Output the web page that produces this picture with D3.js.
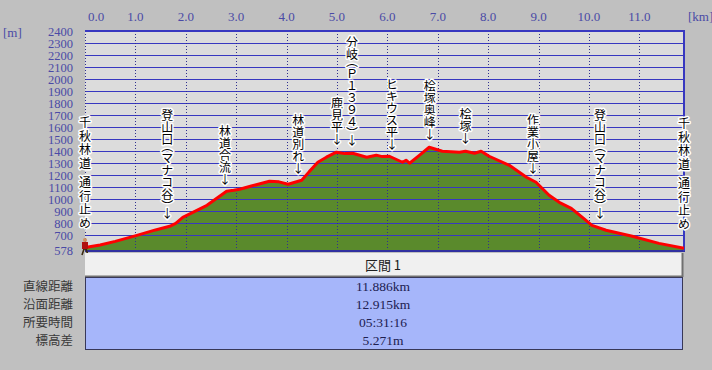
<!DOCTYPE html>
<html><head><meta charset="utf-8">
<script src="https://cdn.jsdelivr.net/npm/d3@7"></script>
<style>
html,body{margin:0;padding:0;background:#c0c0c0;}
svg{display:block;}
</style></head>
<body>
<svg id="chart" width="712" height="370"></svg>
<script>
// ---- data ----
const profileKm = [0.00,0.30,0.60,1.03,1.40,1.68,1.80,1.94,2.42,2.81,2.95,3.07,3.30,3.66,3.85,4.03,4.30,4.45,4.62,4.79,4.99,5.15,5.31,5.59,5.78,5.90,6.04,6.30,6.37,6.44,6.64,6.83,7.09,7.43,7.55,7.73,7.86,8.02,8.42,8.76,8.95,9.21,9.41,9.65,9.87,10.06,10.34,10.86,11.39,11.886];
const profileElev = [598,620,650,700,745,775,800,850,950,1067,1075,1083,1110,1150,1145,1125,1158,1230,1308,1350,1392,1380,1383,1350,1367,1355,1358,1308,1325,1300,1367,1433,1400,1392,1400,1383,1400,1358,1283,1183,1142,1033,975,925,850,783,742,692,633,592];
const wpNames = ["千秋林道 通行止め","登山口（マナコ谷）↓","林道合流↓","林道別れ↓","鹿見平↓","分岐（Ｐ１３９４）↓","ヒキウス平↓","桧塚奥峰↓","桧塚↓","作業小屋↓","登山口（マナコ谷）↓","千秋林道 通行止め"];
const wpKm   = [0.0,1.63,2.78,4.23,5.0,5.3,6.09,6.84,7.55,8.89,10.22,11.886];
const wpElev = [600,770,1060,1150,1392,1383,1350,1433,1400,1150,770,592];
const xTicks = [0,1,2,3,4,5,6,7,8,9,10,11];
const yTicks = [2400,2300,2200,2100,2000,1900,1800,1700,1600,1500,1400,1300,1200,1100,1000,900,800,700,578];
const rowLabels = ["直線距離","沿面距離","所要時間","標高差"];
const rowValues = ["11.886km","12.915km","05:31:16","5.271m"];
const sectionTitle = "区間 1";

// ---- layout ----
const svg = d3.select("#chart");
const L = 85, R = 684, T = 31, B = 250;
const x = d3.scaleLinear().domain([0, 11.886]).range([L, R]);
const y = d3.scaleLinear().domain([578, 2400]).range([B, T]);
const blue = "#3838c0", labBlue = "#4a4aa6";

svg.append("rect").attr("width",712).attr("height",370).attr("fill","#c0c0c0");
svg.append("rect").attr("x",L).attr("y",T).attr("width",R-L).attr("height",B-T).attr("fill","#dcdcdc");

const pts = profileKm.map((k,i)=>[k, profileElev[i]]);
svg.append("path").datum(pts)
  .attr("d", d3.area().x(d=>x(d[0])).y0(y(578)).y1(d=>y(d[1])))
  .attr("fill","#5a8a2c");

// grid
const gridY = yTicks.filter(v=>v!==578 && v!==2400);
svg.append("g").selectAll("line").data(gridY).join("line")
  .attr("x1",L).attr("x2",R).attr("y1",d=>Math.round(y(d))+0.5).attr("y2",d=>Math.round(y(d))+0.5)
  .attr("stroke",blue).attr("stroke-width",1);
svg.append("g").selectAll("line").data(xTicks).join("line")
  .attr("x1",d=>Math.round(x(d))+0.5).attr("x2",d=>Math.round(x(d))+0.5).attr("y1",T).attr("y2",B)
  .attr("stroke","#303090").attr("stroke-width",1).attr("stroke-dasharray","1,2");
svg.append("line").attr("x1",L).attr("x2",R+1).attr("y1",T).attr("y2",T).attr("stroke",blue).attr("stroke-width",2);
svg.append("line").attr("x1",L).attr("x2",R+1).attr("y1",B+1).attr("y2",B+1).attr("stroke","#3030a0").attr("stroke-width",2);
svg.append("line").attr("x1",R).attr("x2",R).attr("y1",T).attr("y2",B+1).attr("stroke",blue).attr("stroke-width",2);

// profile line
svg.append("path").datum(pts)
  .attr("d", d3.line().x(d=>x(d[0])).y(d=>y(d[1])))
  .attr("fill","none").attr("stroke","#ff0000").attr("stroke-width",3).attr("stroke-linejoin","round");

// axes labels
svg.append("g").selectAll("text").data(xTicks).join("text")
  .attr("x",d=> d===0 ? x(d)+3 : x(d)).attr("y",21)
  .attr("text-anchor",d=> d===0 ? "start":"middle")
  .attr("font-family","Liberation Serif, serif").attr("font-size",13).attr("fill",labBlue)
  .text(d=>d.toFixed(1));
svg.append("text").attr("x",688).attr("y",21).attr("font-family","Liberation Serif, serif").attr("font-size",13).attr("fill",labBlue).text("[km]");
svg.append("text").attr("x",3).attr("y",37).attr("font-family","Liberation Serif, serif").attr("font-size",13).attr("fill",labBlue).text("[m]");
svg.append("g").selectAll("text").data(yTicks).join("text")
  .attr("x",73).attr("y",d=>y(d)+4.5).attr("text-anchor","end")
  .attr("font-family","Liberation Serif, serif").attr("font-size",12.5).attr("fill",labBlue)
  .text(d=>d);

// waypoint labels (vertical text, one text element per label)
function spacingAt(chars, i, isEnd){
  const c = chars[i], n = chars[i+1];
  if (n === "（") return -5;
  if (c === "）") return -5;
  if (c === " ") return -6;
  return isEnd ? 1.5 : 0;
}
const labels = svg.append("g").selectAll("text").data(wpNames).join("text")
  .attr("x",(d,i)=>x(wpKm[i]))
  .attr("y",(d,i)=> y(wpElev[i]) - (d.endsWith("↓") ? 7 : 18))
  .attr("text-anchor","end")
  .attr("writing-mode","vertical-rl")
  .style("text-orientation","upright")
  .attr("font-family","'Noto Sans CJK JP', sans-serif").attr("font-size",12)
  .attr("fill","#000").attr("stroke","#fff").attr("stroke-width",3).attr("stroke-linejoin","round")
  .attr("paint-order","stroke");
labels.each(function(d){
  const chars = Array.from(d);
  const isEnd = !d.endsWith("↓");
  d3.select(this).selectAll("tspan").data(chars).join("tspan")
    .style("letter-spacing", (c,i) => (i===chars.length-1 ? 0 : spacingAt(chars,i,isEnd))+"px")
    .text(c=>c);
});

// hiker icon at start
const hk = svg.append("g").attr("transform",`translate(${x(0)},${y(578)})`);
hk.append("path").attr("d","M-3,5 L-1,-1 L1,-1 L3,5").attr("stroke","#3a2a10").attr("stroke-width",1.6).attr("fill","none");
hk.append("rect").attr("x",-3).attr("y",-8).attr("width",6).attr("height",7).attr("fill","#b01010");
hk.append("circle").attr("cx",0).attr("cy",-10).attr("r",2).attr("fill","#d09060");

// table
const tL = 85, tR = 683;
svg.append("rect").attr("x",tL).attr("y",253).attr("width",tR-tL).attr("height",23).attr("fill","#f0f0f0");
svg.append("path").attr("d",`M${tL},276.5 H${tR} M${tR-0.5},253 V277`).attr("stroke","#707070").attr("stroke-width",2).attr("fill","none");
svg.append("text").attr("x",383).attr("y",269.5).attr("text-anchor","middle")
  .attr("font-family","'Noto Sans CJK JP', sans-serif").attr("font-size",13).attr("fill","#202020").text(sectionTitle);
svg.append("rect").attr("x",tL+0.5).attr("y",277.5).attr("width",tR-tL-1).attr("height",72).attr("fill","#a6b6fa").attr("stroke","#383858").attr("stroke-width",1);
const rowY = d3.scaleBand().domain(rowLabels).range([278,349]);
svg.append("g").selectAll("text").data(rowLabels).join("text")
  .attr("x",73).attr("y",d=>rowY(d)+rowY.bandwidth()/2+4.5).attr("text-anchor","end")
  .attr("font-family","'Noto Sans CJK JP', sans-serif").attr("font-size",12.5).attr("fill","#383838").text(d=>d);
svg.append("g").selectAll("text").data(rowValues).join("text")
  .attr("x",383).attr("y",(d,i)=>rowY(rowLabels[i])+rowY.bandwidth()/2+4.5).attr("text-anchor","middle")
  .attr("font-family","Liberation Serif, serif").attr("font-size",13.5).attr("fill","#202050").text(d=>d);
</script>
</body></html>
